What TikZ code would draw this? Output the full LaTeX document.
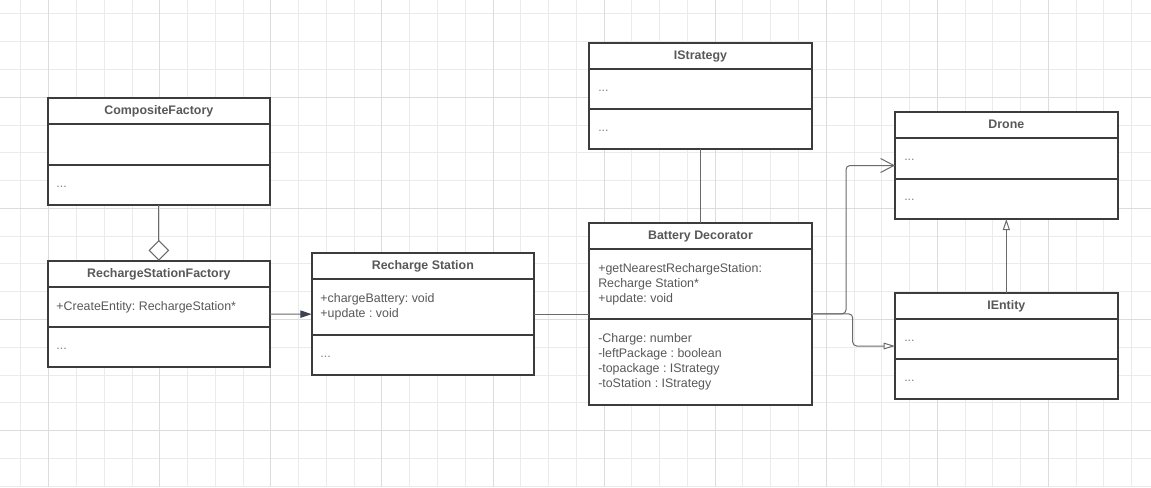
\documentclass[tikz,border=0pt]{standalone}
\usepackage{fontspec}
\setmainfont{Liberation Sans}
\frenchspacing
\usetikzlibrary{arrows.meta,calc}
\definecolor{gridminor}{HTML}{EBEBEB}
\definecolor{gridmajor}{HTML}{DCDCDC}
\definecolor{boxline}{HTML}{3C3C3C}
\definecolor{txt}{HTML}{585858}
\definecolor{dotcol}{HTML}{808080}
\definecolor{connline}{HTML}{6A6A6A}
\definecolor{headfill}{HTML}{3B4252}
\begin{document}
\frenchspacing
\begin{tikzpicture}[x=0.75pt,y=-0.75pt,
  classbox/.style={draw=boxline, line width=1.5pt, fill=white, rectangle, inner sep=0pt, outer sep=0pt, anchor=north west},
  divider/.style={draw=boxline, line width=1.5pt},
  title/.style={font=\fontsize{9.3pt}{11.25pt}\selectfont\bfseries, text=txt, anchor=base, inner sep=0pt},
  member/.style={font=\fontsize{9.3pt}{11.25pt}\selectfont\frenchspacing, text=txt, anchor=base west, inner sep=0pt},
  dots/.style={member, text=dotcol},
  conn/.style={draw=connline, line width=0.75pt},
  gminor/.style={draw=gridminor, line width=0.75pt},
  gmajor/.style={draw=gridmajor, line width=0.75pt},
]
\useasboundingbox (0,0) rectangle (1151,487);
\fill[white] (0,0) rectangle (1151,487);
% grid
\foreach \i in {-1,...,39} \draw[gminor] ({48.7+\i*27.77},0) -- ({48.7+\i*27.77},487);
\foreach \k in {-3,...,14} \draw[gminor] (0,{97.3+\k*27.77}) -- (1151,{97.3+\k*27.77});
\foreach \i in {0,4,...,36} \draw[gmajor] ({48.7+\i*27.77},0) -- ({48.7+\i*27.77},487);
\foreach \k in {0,4,8,12} \draw[gmajor] (0,{97.3+\k*27.77}) -- (1151,{97.3+\k*27.77});

% CompositeFactory
\node[classbox, minimum width=166.7pt, minimum height=80.5pt] (cf) at (47.7,97.7) {};
\draw[divider] (47.7,124) -- (270,124);
\draw[divider] (47.7,164.7) -- (270,164.7);
\node[title] (cft) at (158.85,114.2) {CompositeFactory};
\node[dots] (cfm) at (56.2,187) {...};

% RechargeStationFactory
\node[classbox, minimum width=166.7pt, minimum height=79.95pt] (rsf) at (47.7,260.7) {};
\draw[divider] (47.7,286.7) -- (270,286.7);
\draw[divider] (47.7,327) -- (270,327);
\node[title] (rsft) at (158.85,277.2) {RechargeStationFactory};
\node[member] (rsfa) at (56.2,310) {+CreateEntity: RechargeStation*};
\node[dots] (rsfm) at (56.2,349) {...};

% Recharge Station
\node[classbox, minimum width=166.7pt, minimum height=91.3pt] (rs) at (311.7,253.3) {};
\draw[divider] (311.7,279.3) -- (534,279.3);
\draw[divider] (311.7,335) -- (534,335);
\node[title] (rst) at (422.85,269.8) {Recharge Station};
\node[member] (rsa1) at (320.2,302.5) {+chargeBattery: void};
\node[member] (rsa2) at (320.2,317) {+update : void};
\node[dots] (rsm) at (320.2,357.5) {...};

% IStrategy
\node[classbox, minimum width=166.8pt, minimum height=79.7pt] (ist) at (589.3,42.7) {};
\draw[divider] (589.3,68.7) -- (811.7,68.7);
\draw[divider] (589.3,109) -- (811.7,109);
\node[title] (istt) at (700.5,59.2) {IStrategy};
\node[dots] (ista) at (598,91.2) {...};
\node[dots] (istm) at (598,131.2) {...};

% Battery Decorator
\node[classbox, minimum width=166.8pt, minimum height=136.7pt] (bd) at (589.3,222.7) {};
\draw[divider] (589.3,249) -- (811.7,249);
\draw[divider] (589.3,319.3) -- (811.7,319.3);
\node[title] (bdt) at (700.5,239.2) {Battery Decorator};
\node[member] (bd1) at (598,272) {+getNearestRechargeStation:};
\node[member] (bd2) at (598,287) {Recharge Station*};
\node[member] (bd3) at (598,302) {+update: void};
\node[member] (bd4) at (598,342.5) {-Charge: number};
\node[member] (bd5) at (598,357.5) {-leftPackage : boolean};
\node[member] (bd6) at (598,372.5) {-topackage : IStrategy};
\node[member] (bd7) at (598,387.5) {-toStation : IStrategy};

% Drone
\node[classbox, minimum width=167pt, minimum height=80.25pt] (dr) at (895,112) {};
\draw[divider] (895,138) -- (1117.7,138);
\draw[divider] (895,178.7) -- (1117.7,178.7);
\node[title] (drt) at (1006.35,128.5) {Drone};
\node[dots] (dra) at (904,160.5) {...};
\node[dots] (drm) at (904,200.5) {...};

% IEntity
\node[classbox, minimum width=167pt, minimum height=79.95pt] (ie) at (895,292.7) {};
\draw[divider] (895,318.7) -- (1117.7,318.7);
\draw[divider] (895,359.3) -- (1117.7,359.3);
\node[title] (iet) at (1006.35,309.2) {IEntity};
\node[dots] (iea) at (904,341) {...};
\node[dots] (iem) at (904,381) {...};

% connectors
\draw[conn, -{Diamond[fill=white, length=15.5pt, width=15.5pt, line width=0.75pt]}] (cf.south) -- (rsf.north);
\draw[conn, -{Triangle[color=headfill, length=8.5pt, width=5.5pt]}] (rsf.east) -- (rs.west);
\draw[conn] (rs.east) -- (rs.east -| bd.west);
\draw[conn] (ist.south) -- (bd.north);
\draw[conn, rounded corners=3pt, -{Straight Barb[length=10pt, width=10.5pt, line width=0.75pt]}] (bd.east) -- ++(34.3,0) |- (dr.west);
\draw[conn, rounded corners=3pt, -{Triangle[fill=white, length=8.5pt, width=5pt, line width=0.75pt]}] (bd.east) -- ++(41,0) |- (ie.west);
\draw[conn, -{Triangle[fill=white, length=8.3pt, width=5.3pt, line width=0.75pt]}] (ie.north) -- (dr.south);
\end{tikzpicture}
\end{document}
